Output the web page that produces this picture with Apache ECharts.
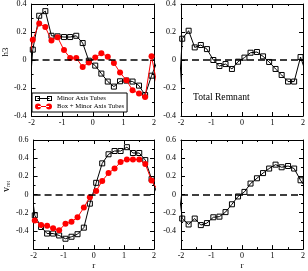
<!DOCTYPE html>
<html><head><meta charset="utf-8">
<script src="https://cdn.jsdelivr.net/npm/echarts@6/dist/echarts.min.js"></script>
<style>html,body{margin:0;padding:0;background:#fff}#c{width:308px;height:271px}</style>
</head><body><div id="c"></div>
<script>
// radial positions (shared by all panels) and off-axis end points (lines run off the frame)
const r = [-1.96,-1.75,-1.55,-1.35,-1.15,-0.94,-0.74,-0.54,-0.33,-0.13,0.08,0.28,0.49,0.69,0.89,1.10,1.30,1.51,1.71,1.92];
const rEdge = [-2.16, 2.12];

// h3, Minor Axis Tubes (top-left, black squares)
const h3Minor = [0.074,0.316,0.349,0.173,0.169,0.164,0.164,0.173,0.121,-0.005,-0.04,-0.097,-0.154,-0.19,-0.152,-0.147,-0.154,-0.183,-0.25,-0.112];
const h3MinorEdge = [-0.5, 0.0];
// h3, Box + Minor Axis Tubes (top-left, red circles)
const h3Box = [0.145,0.261,0.235,0.14,0.162,0.071,0.014,0.014,-0.05,-0.017,0.017,0.048,0.024,-0.021,-0.09,-0.145,-0.216,-0.24,-0.264,0.026];
const h3BoxEdge = [-0.1, -0.2];
// h3, Total Remnant (top-right)
const h3Total = [0.152,0.209,0.09,0.107,0.078,0.0,-0.043,-0.029,-0.064,-0.012,0.017,0.052,0.057,0.026,-0.014,-0.064,-0.107,-0.154,-0.154,0.021];
const h3TotalEdge = [-0.6, -0.11];
// v_rot, Minor Axis Tubes (bottom-left, black)
const vMinor = [-0.229,-0.357,-0.429,-0.429,-0.45,-0.486,-0.464,-0.436,-0.364,-0.1,0.129,0.343,0.443,0.479,0.479,0.521,0.457,0.457,0.379,0.171];
const vMinorEdge = [0.27, 0.0];
// v_rot, Box + Minor Axis Tubes (bottom-left, red)
const vBox = [-0.286,-0.336,-0.343,-0.371,-0.393,-0.321,-0.3,-0.25,-0.143,-0.029,0.039,0.15,0.236,0.286,0.357,0.386,0.386,0.386,0.336,0.154];
const vBoxEdge = [-0.25, 0.05];
// v_rot, Total Remnant (bottom-right)
const vTotal = [-0.264,-0.329,-0.264,-0.336,-0.314,-0.25,-0.243,-0.193,-0.107,-0.021,0.029,0.121,0.179,0.236,0.286,0.329,0.3,0.314,0.286,0.157];
const vTotalEdge = [0.3, 0.06];

const xTicks = {min:-2, max:2, interval:1};
const h3Range = {min:-0.4, max:0.4, interval:0.2};
const vRange = {min:-0.6, max:0.6, interval:0.2};

const FONT = 'Liberation Serif';
function pts(vals, edge){
  const d = [[rEdge[0], edge[0]]];
  r.forEach((x,i)=>d.push([x, vals[i]]));
  d.push([rEdge[1], edge[1]]);
  return d;
}
const grids = [
  {left:31, top:4, width:123, height:112},
  {left:181, top:4, width:123, height:112},
  {left:31, top:140, width:123, height:113},
  {left:181, top:140, width:123, height:113}
];
function common(){
  return {
    axisLine:{show:true, onZero:false, lineStyle:{color:'#000', width:1}},
    axisTick:{show:true, inside:true, length:4, lineStyle:{color:'#000', width:1}},
    minorTick:{show:true, splitNumber:2, length:2, lineStyle:{color:'#000', width:1}},
    splitLine:{show:false}, minorSplitLine:{show:false}
  };
}
function xAx(i, pos, labels, name){
  return Object.assign(common(), {type:'value', gridIndex:i, position:pos,
    min:xTicks.min, max:xTicks.max, interval:xTicks.interval,
    axisLabel:{show:labels, fontFamily:FONT, fontSize:8, color:'#000', margin:3},
    name:name||'', nameLocation:'middle', nameGap:9,
    nameTextStyle:{fontFamily:FONT, fontSize:9, color:'#000'}});
}
function yAx(i, pos, labels, rng, name, extra){
  return Object.assign(common(), {type:'value', gridIndex:i, position:pos,
    min:rng.min, max:rng.max, interval:rng.interval,
    axisLabel:Object.assign({show:labels, fontFamily:FONT, fontSize:8, color:'#000', margin:5}, extra||{}),
    name:name||'', nameLocation:'middle', nameGap:19,
    nameTextStyle:{fontFamily:FONT, fontSize:9, color:'#000', padding:[0,0,0,16],
      rich:{v:{fontFamily:FONT, fontSize:10, color:'#000', lineHeight:12, verticalAlign:'middle'},
            s:{fontFamily:FONT, fontSize:5.5, color:'#000', lineHeight:12, verticalAlign:'bottom'}}}});
}
const zeroLine = {silent:true, symbol:['none','none'], label:{show:false}, animation:false,
  lineStyle:{color:'#000', type:[7,4], width:1.5}, emphasis:{disabled:true}, data:[{yAxis:0}]};
function black(name, gi, data){
  return {type:'line', name, xAxisIndex:gi, yAxisIndex:gi, data, clip:true,
    symbol:'rect', symbolSize:5, lineStyle:{color:'#000', width:1},
    itemStyle:{color:'rgba(0,0,0,0)', borderColor:'#000', borderWidth:1},
    emphasis:{disabled:true}, markLine:zeroLine, z:3};
}
function red(name, gi, data){
  return {type:'line', name, xAxisIndex:gi, yAxisIndex:gi, data, clip:true,
    symbol:'circle', symbolSize:6, lineStyle:{color:'#ff0000', width:1},
    itemStyle:{color:'#ff0000', borderWidth:0}, emphasis:{disabled:true}, z:4};
}
const ICON_SQ = 'path://M0,0.5H5V5.5H0Z M1,1.5V4.5H4V1.5Z M12,0.5H17V5.5H12Z M13,1.5V4.5H16V1.5Z M2.5,2.5H14.5V3.5H2.5Z';
const ICON_CI = 'path://M0,3a3,3 0 1,0 6,0a3,3 0 1,0 -6,0Z M11,3a3,3 0 1,0 6,0a3,3 0 1,0 -6,0Z M3,2.5H14V3.5H3Z';

const chart = echarts.init(document.getElementById('c'), null, {renderer:'canvas'});
chart.setOption({
  animation:false,
  backgroundColor:'#fff',
  grid:grids,
  title:{text:'Total Remnant', left:193, top:92, padding:0,
    textStyle:{fontFamily:FONT, fontSize:9.6, fontWeight:'normal', color:'#000'}},
  legend:{orient:'vertical', left:32, top:93, padding:[2,3,2,3], itemGap:1,
    itemWidth:17, itemHeight:6, borderColor:'#000', borderWidth:1, borderRadius:0,
    backgroundColor:'#fff', selectedMode:false,
    textStyle:{fontFamily:FONT, fontSize:6.7, color:'#000'},
    data:[
      {name:'Minor Axis Tubes', icon:ICON_SQ, itemStyle:{color:'#000', borderWidth:0}},
      {name:'Box + Minor Axis Tubes', icon:ICON_CI, itemStyle:{color:'#ff0000', borderWidth:0}}
    ]},
  xAxis:[
    xAx(0,'bottom',true), xAx(1,'bottom',true), xAx(2,'bottom',true,'r'), xAx(3,'bottom',true,'r'),
    xAx(0,'top',false), xAx(1,'top',false), xAx(2,'top',false), xAx(3,'top',false)
  ],
  yAxis:[
    yAx(0,'left',true,h3Range,'h3'), yAx(1,'left',true,h3Range),
    yAx(2,'left',true,vRange,'{v|v}{s|rot}',{showMinLabel:false}), yAx(3,'left',true,vRange,'',{showMinLabel:false}),
    yAx(0,'right',false,h3Range), yAx(1,'right',false,h3Range),
    yAx(2,'right',false,vRange), yAx(3,'right',false,vRange)
  ],
  series:[
    black('Minor Axis Tubes', 0, pts(h3Minor, h3MinorEdge)),
    red('Box + Minor Axis Tubes', 0, pts(h3Box, h3BoxEdge)),
    black('Total Remnant h3', 1, pts(h3Total, h3TotalEdge)),
    black('Minor Axis Tubes vrot', 2, pts(vMinor, vMinorEdge)),
    red('Box + Minor Axis Tubes vrot', 2, pts(vBox, vBoxEdge)),
    black('Total Remnant vrot', 3, pts(vTotal, vTotalEdge))
  ]
});
</script></body></html>
